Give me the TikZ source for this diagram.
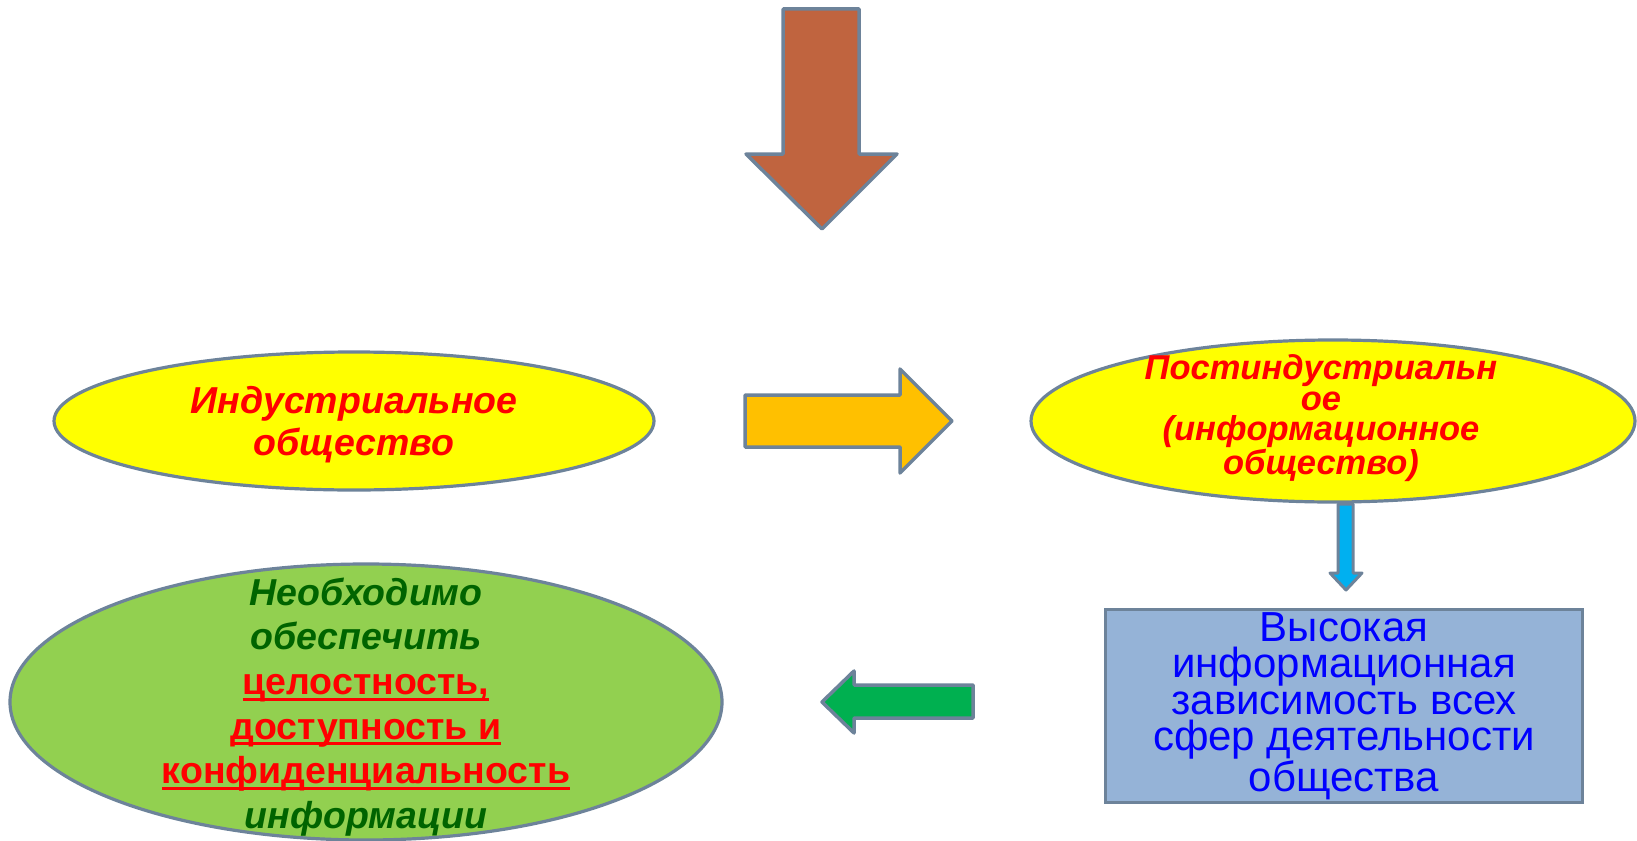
\documentclass[tikz,border=0pt]{standalone}
\usepackage{fontspec}
\setmainfont{Liberation Sans}
\usepackage{tikz}
\usetikzlibrary{positioning}
\usetikzlibrary{shapes.geometric}
\definecolor{edgegray}{HTML}{6D839A}
\definecolor{brickred}{HTML}{C0643F}
\definecolor{amber}{HTML}{FFC000}
\definecolor{sunyellow}{HTML}{FFFF00}
\definecolor{leafgreen}{HTML}{92D050}
\definecolor{arrowgreen}{HTML}{00B050}
\definecolor{skyblue}{HTML}{00B0F0}
\definecolor{steelbox}{HTML}{95B3D7}
\definecolor{darkleaf}{HTML}{006400}
\newcommand{\tikzRedLine}[1]{\textcolor{red}{\bfseries\upshape\setbox0\hbox{#1}\rlap{\rule[-6pt]{\wd0}{2.8pt}}\box0}}

\begin{document}
\begin{tikzpicture}[x=1pt,y=-1pt,
    oval/.style = {ellipse, draw = edgegray, line width = 3.2pt, inner sep = 0pt},
    blockarrow/.style = {draw = edgegray, line width = 3.5pt, line join = round},
    redtext/.style = {text = red, font = \fontsize{34.5}{30.5}\selectfont\bfseries\itshape, align = center}]
                \useasboundingbox (0,0) rectangle (1637,840);
                % ellipses and box
                \node [oval, fill = sunyellow, minimum width = 600pt, minimum height = 138pt] (indust) at (354,421) {};
                \node [oval, fill = sunyellow, minimum width = 604pt, minimum height = 162pt] (postind) at (1333,421) {};
                \node [oval, fill = leafgreen, minimum width = 712pt, minimum height = 276pt] (secure) at (366,702) {};
                \node [draw = edgegray, line width = 3pt, fill = steelbox, minimum width = 477pt, minimum height = 192pt,
                       text = blue, align = center, font = \fontsize{42}{36.5}\selectfont] (depend) at (1344,706)
                      {Высокая\\информационная\\зависимость всех\\сфер деятельности\\общества};
                % texts
                \node [redtext, font = \fontsize{37.5}{42}\selectfont\bfseries\itshape] (industtext) at (354,425) {Индустриальное\\общество};
                \node [redtext] (postindtext) at (1321,418) {Постиндустриальн\\ое\\(информационное\\общество)};
                \node [align = center, text = darkleaf, font = \fontsize{37.5}{44.6}\selectfont\bfseries\itshape] (securetext) at (366,707)
                      {Необходимо\\обеспечить\\\tikzRedLine{целостность,}\\\tikzRedLine{доступность и}\\\tikzRedLine{конфиденциальность}\\информации};
                % block arrows
                \draw [blockarrow, fill = brickred] (783,9) -- (859,9) -- (859,154) -- (897,154) -- (822,229) -- (746,154) -- (783,154) -- cycle;
                \draw [blockarrow, fill = amber] (745,395) -- (900,395) -- (900,369) -- (952,421) -- (900,473) -- (900,447) -- (745,447) -- cycle;
                \draw [blockarrow, fill = arrowgreen] (973,685) -- (854,685) -- (854,671) -- (822,702) -- (854,733) -- (854,718) -- (973,718) -- cycle;
                \draw [blockarrow, line width = 3pt, fill = skyblue] (1338,504) -- (1353,504) -- (1353,573) -- (1362,573) -- (1346,590) -- (1330,573) -- (1338,573) -- cycle;
              \end{tikzpicture}
\end{document}
